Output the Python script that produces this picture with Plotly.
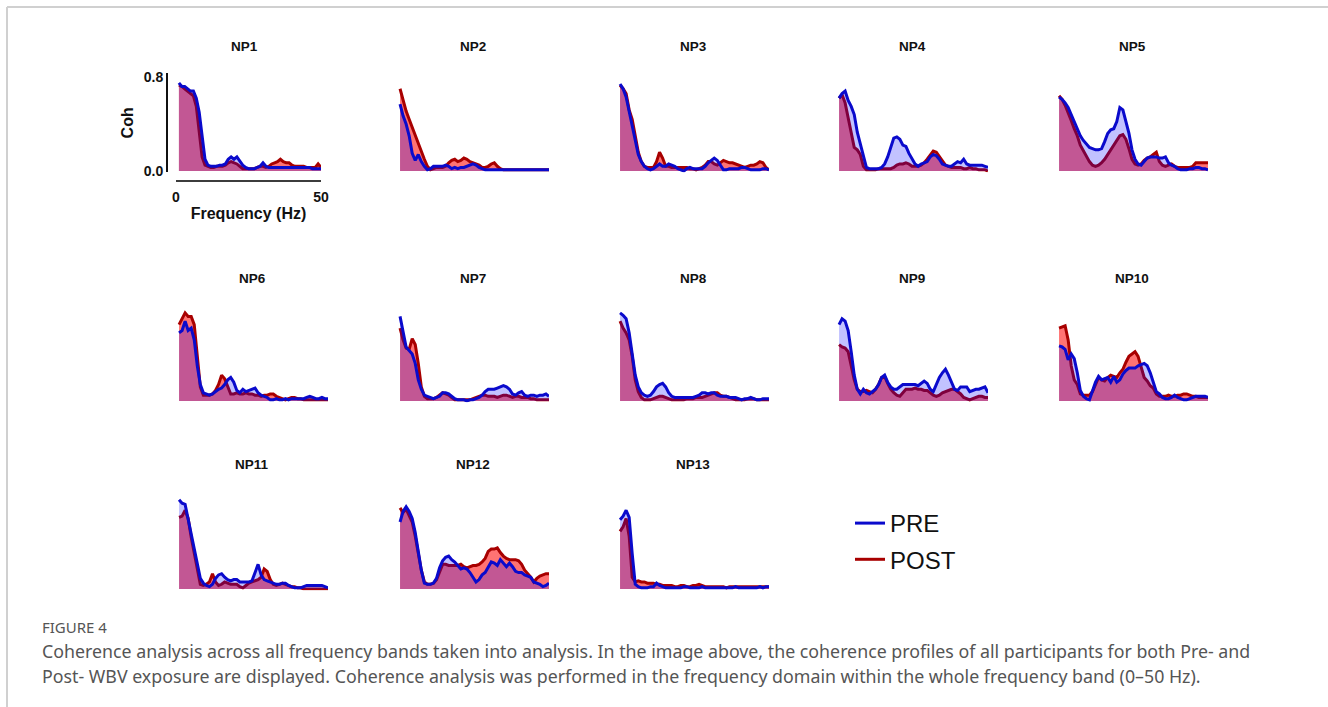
import plotly.graph_objects as go

W, H = 1328, 707

# ---------------- data ----------------
freqs = list(range(1, 51))  # Hz
panel_names = ["NP1", "NP2", "NP3", "NP4", "NP5", "NP6", "NP7", "NP8", "NP9", "NP10", "NP11", "NP12", "NP13"]

np1_pre = [0.75, 0.72, 0.72, 0.70, 0.68, 0.68, 0.62, 0.50, 0.28, 0.10,
           0.05, 0.04, 0.04, 0.04, 0.05, 0.05, 0.06, 0.10, 0.12, 0.10,
           0.12, 0.08, 0.05, 0.03, 0.02, 0.02, 0.02, 0.03, 0.04, 0.07,
           0.04, 0.03, 0.03, 0.03, 0.03, 0.03, 0.03, 0.03, 0.03, 0.03,
           0.03, 0.03, 0.03, 0.03, 0.03, 0.03, 0.02, 0.02, 0.02, 0.02]
np1_post = [0.73, 0.72, 0.70, 0.68, 0.66, 0.64, 0.55, 0.35, 0.12, 0.05,
            0.04, 0.03, 0.03, 0.04, 0.04, 0.04, 0.05, 0.07, 0.08, 0.07,
            0.06, 0.04, 0.02, 0.02, 0.02, 0.02, 0.02, 0.03, 0.04, 0.04,
            0.03, 0.04, 0.06, 0.07, 0.08, 0.10, 0.08, 0.07, 0.07, 0.05,
            0.04, 0.04, 0.04, 0.04, 0.03, 0.03, 0.03, 0.03, 0.06, 0.03]

np2_pre = [0.57, 0.47, 0.40, 0.30, 0.15, 0.09, 0.14, 0.08, 0.04, 0.01,
           0.02, 0.04, 0.04, 0.04, 0.04, 0.05, 0.04, 0.02, 0.03, 0.02,
           0.03, 0.03, 0.04, 0.05, 0.06, 0.05, 0.03, 0.02, 0.01, 0.01,
           0.01, 0.01, 0.01, 0.01, 0.01, 0.01, 0.01, 0.01, 0.01, 0.01,
           0.01, 0.01, 0.01, 0.01, 0.01, 0.01, 0.01, 0.01, 0.01, 0.01]
np2_post = [0.70, 0.60, 0.51, 0.44, 0.37, 0.30, 0.24, 0.17, 0.10, 0.04,
            0.01, 0.02, 0.03, 0.03, 0.03, 0.04, 0.07, 0.09, 0.10, 0.08,
            0.09, 0.11, 0.10, 0.08, 0.07, 0.06, 0.05, 0.03, 0.03, 0.04,
            0.06, 0.07, 0.04, 0.02, 0.01, 0.01, 0.01, 0.01, 0.01, 0.01,
            0.01, 0.01, 0.01, 0.01, 0.01, 0.01, 0.01, 0.01, 0.01, 0.01]

np3_pre = [0.74, 0.70, 0.63, 0.50, 0.38, 0.26, 0.14, 0.08, 0.04, 0.02,
           0.01, 0.02, 0.04, 0.06, 0.04, 0.04, 0.06, 0.05, 0.04, 0.02,
           0.01, 0.00, 0.02, 0.03, 0.02, 0.02, 0.02, 0.02, 0.04, 0.07,
           0.09, 0.11, 0.09, 0.05, 0.01, 0.01, 0.02, 0.02, 0.02, 0.02,
           0.03, 0.03, 0.02, 0.01, 0.01, 0.01, 0.01, 0.02, 0.02, 0.01]
np3_post = [0.73, 0.70, 0.66, 0.52, 0.44, 0.30, 0.16, 0.08, 0.04, 0.03,
            0.03, 0.03, 0.08, 0.16, 0.11, 0.04, 0.04, 0.03, 0.03, 0.03,
            0.03, 0.03, 0.03, 0.02, 0.02, 0.01, 0.02, 0.03, 0.05, 0.08,
            0.08, 0.06, 0.05, 0.07, 0.09, 0.08, 0.07, 0.07, 0.06, 0.05,
            0.04, 0.03, 0.04, 0.05, 0.05, 0.06, 0.08, 0.07, 0.03, 0.01]

np4_pre = [0.62, 0.66, 0.68, 0.60, 0.55, 0.48, 0.33, 0.23, 0.12, 0.03,
           0.02, 0.02, 0.02, 0.02, 0.03, 0.06, 0.12, 0.20, 0.28, 0.29,
           0.27, 0.22, 0.21, 0.15, 0.10, 0.06, 0.04, 0.06, 0.07, 0.08,
           0.12, 0.14, 0.13, 0.10, 0.06, 0.05, 0.04, 0.04, 0.06, 0.08,
           0.07, 0.10, 0.06, 0.05, 0.05, 0.05, 0.05, 0.05, 0.04, 0.03]
np4_post = [0.62, 0.65, 0.58, 0.45, 0.30, 0.20, 0.18, 0.14, 0.04, 0.01,
            0.01, 0.01, 0.01, 0.02, 0.02, 0.02, 0.02, 0.02, 0.03, 0.05,
            0.06, 0.06, 0.07, 0.06, 0.04, 0.04, 0.04, 0.05, 0.07, 0.10,
            0.14, 0.17, 0.16, 0.12, 0.08, 0.05, 0.04, 0.03, 0.03, 0.03,
            0.03, 0.02, 0.02, 0.03, 0.02, 0.02, 0.01, 0.01, 0.01, 0.00]

np5_pre = [0.63, 0.61, 0.58, 0.54, 0.48, 0.42, 0.36, 0.30, 0.26, 0.23,
           0.20, 0.19, 0.18, 0.18, 0.19, 0.25, 0.32, 0.35, 0.36, 0.42,
           0.54, 0.52, 0.42, 0.32, 0.18, 0.10, 0.06, 0.05, 0.08, 0.11,
           0.12, 0.12, 0.12, 0.11, 0.11, 0.12, 0.07, 0.05, 0.04, 0.02,
           0.01, 0.01, 0.01, 0.02, 0.02, 0.03, 0.03, 0.02, 0.02, 0.01]
np5_post = [0.64, 0.61, 0.56, 0.50, 0.43, 0.36, 0.30, 0.22, 0.17, 0.12,
            0.08, 0.05, 0.04, 0.05, 0.07, 0.10, 0.14, 0.19, 0.23, 0.26,
            0.30, 0.31, 0.27, 0.19, 0.10, 0.06, 0.05, 0.06, 0.09, 0.11,
            0.12, 0.14, 0.16, 0.08, 0.05, 0.04, 0.05, 0.06, 0.04, 0.03,
            0.03, 0.03, 0.03, 0.03, 0.04, 0.07, 0.07, 0.07, 0.07, 0.07]

np6_pre = [0.58, 0.60, 0.68, 0.60, 0.62, 0.52, 0.30, 0.14, 0.07, 0.06,
           0.05, 0.06, 0.08, 0.10, 0.11, 0.14, 0.18, 0.20, 0.16, 0.09,
           0.07, 0.10, 0.08, 0.09, 0.10, 0.11, 0.07, 0.05, 0.04, 0.03,
           0.01, 0.01, 0.02, 0.01, 0.01, 0.02, 0.01, 0.02, 0.02, 0.02,
           0.02, 0.02, 0.03, 0.04, 0.03, 0.02, 0.02, 0.03, 0.02, 0.02]
np6_post = [0.65, 0.70, 0.75, 0.72, 0.72, 0.65, 0.40, 0.12, 0.05, 0.05,
            0.05, 0.06, 0.09, 0.14, 0.22, 0.19, 0.12, 0.06, 0.06, 0.07,
            0.06, 0.06, 0.07, 0.06, 0.06, 0.05, 0.05, 0.04, 0.05, 0.05,
            0.06, 0.06, 0.04, 0.03, 0.02, 0.01, 0.02, 0.03, 0.03, 0.02,
            0.02, 0.01, 0.01, 0.01, 0.01, 0.01, 0.01, 0.01, 0.01, 0.01]

np7_pre = [0.72, 0.60, 0.46, 0.43, 0.40, 0.32, 0.18, 0.10, 0.05, 0.04,
           0.03, 0.02, 0.03, 0.04, 0.07, 0.07, 0.06, 0.04, 0.02, 0.01,
           0.01, 0.01, 0.00, 0.01, 0.01, 0.02, 0.03, 0.05, 0.08, 0.10,
           0.10, 0.10, 0.11, 0.12, 0.13, 0.12, 0.10, 0.06, 0.05, 0.07,
           0.08, 0.05, 0.04, 0.05, 0.05, 0.04, 0.05, 0.05, 0.06, 0.04]
np7_post = [0.62, 0.52, 0.45, 0.44, 0.53, 0.48, 0.32, 0.12, 0.04, 0.02,
            0.02, 0.02, 0.03, 0.05, 0.07, 0.06, 0.05, 0.03, 0.01, 0.01,
            0.01, 0.01, 0.01, 0.01, 0.02, 0.03, 0.04, 0.05, 0.05, 0.04,
            0.04, 0.04, 0.03, 0.04, 0.05, 0.05, 0.04, 0.03, 0.04, 0.04,
            0.03, 0.03, 0.03, 0.02, 0.02, 0.01, 0.01, 0.01, 0.01, 0.01]

np8_pre = [0.75, 0.73, 0.70, 0.58, 0.40, 0.22, 0.12, 0.07, 0.05, 0.04,
           0.05, 0.08, 0.12, 0.14, 0.15, 0.12, 0.07, 0.04, 0.03, 0.03,
           0.03, 0.03, 0.03, 0.03, 0.03, 0.04, 0.05, 0.07, 0.07, 0.06,
           0.07, 0.07, 0.05, 0.04, 0.04, 0.04, 0.03, 0.03, 0.03, 0.02,
           0.01, 0.02, 0.02, 0.03, 0.02, 0.01, 0.01, 0.02, 0.02, 0.02]
np8_post = [0.68, 0.62, 0.58, 0.52, 0.38, 0.18, 0.08, 0.03, 0.01, 0.01,
            0.01, 0.02, 0.03, 0.04, 0.04, 0.03, 0.02, 0.01, 0.01, 0.01,
            0.01, 0.01, 0.02, 0.02, 0.02, 0.03, 0.03, 0.03, 0.04, 0.05,
            0.06, 0.07, 0.07, 0.05, 0.04, 0.04, 0.03, 0.02, 0.01, 0.01,
            0.01, 0.01, 0.02, 0.02, 0.02, 0.01, 0.01, 0.01, 0.01, 0.01]

np9_pre = [0.65, 0.70, 0.68, 0.60, 0.42, 0.22, 0.10, 0.06, 0.10, 0.07,
           0.06, 0.08, 0.10, 0.14, 0.20, 0.22, 0.16, 0.12, 0.10, 0.10,
           0.12, 0.14, 0.14, 0.14, 0.14, 0.14, 0.13, 0.15, 0.17, 0.15,
           0.10, 0.08, 0.14, 0.20, 0.24, 0.27, 0.22, 0.16, 0.10, 0.09,
           0.12, 0.12, 0.12, 0.08, 0.09, 0.10, 0.10, 0.11, 0.12, 0.07]
np9_post = [0.48, 0.46, 0.45, 0.42, 0.30, 0.18, 0.10, 0.08, 0.08, 0.09,
            0.08, 0.07, 0.10, 0.14, 0.20, 0.21, 0.15, 0.10, 0.07, 0.05,
            0.04, 0.07, 0.10, 0.10, 0.10, 0.11, 0.10, 0.10, 0.09, 0.09,
            0.07, 0.05, 0.04, 0.05, 0.07, 0.08, 0.09, 0.10, 0.10, 0.08,
            0.06, 0.03, 0.02, 0.01, 0.02, 0.03, 0.04, 0.04, 0.03, 0.03]

np10_pre = [0.47, 0.46, 0.44, 0.35, 0.40, 0.36, 0.24, 0.09, 0.04, 0.02,
            0.01, 0.08, 0.16, 0.21, 0.18, 0.19, 0.20, 0.16, 0.21, 0.16,
            0.18, 0.23, 0.26, 0.28, 0.28, 0.28, 0.30, 0.31, 0.32, 0.30,
            0.24, 0.16, 0.08, 0.06, 0.03, 0.02, 0.02, 0.03, 0.05, 0.03,
            0.02, 0.01, 0.01, 0.02, 0.03, 0.04, 0.04, 0.04, 0.04, 0.03]
np10_post = [0.62, 0.63, 0.64, 0.52, 0.30, 0.18, 0.14, 0.06, 0.05, 0.05,
             0.05, 0.08, 0.14, 0.20, 0.18, 0.17, 0.20, 0.22, 0.21, 0.20,
             0.24, 0.27, 0.33, 0.38, 0.40, 0.42, 0.38, 0.28, 0.20, 0.17,
             0.13, 0.11, 0.06, 0.04, 0.04, 0.04, 0.05, 0.04, 0.04, 0.05,
             0.05, 0.06, 0.06, 0.05, 0.04, 0.04, 0.03, 0.03, 0.03, 0.03]

np11_pre = [0.76, 0.73, 0.72, 0.60, 0.47, 0.34, 0.21, 0.09, 0.05, 0.03,
            0.02, 0.04, 0.09, 0.12, 0.13, 0.10, 0.08, 0.07, 0.08, 0.08,
            0.06, 0.06, 0.06, 0.06, 0.07, 0.15, 0.21, 0.12, 0.08, 0.07,
            0.06, 0.05, 0.04, 0.04, 0.05, 0.05, 0.03, 0.02, 0.01, 0.01,
            0.01, 0.02, 0.03, 0.03, 0.03, 0.03, 0.03, 0.03, 0.02, 0.01]
np11_post = [0.61, 0.62, 0.67, 0.60, 0.44, 0.30, 0.18, 0.04, 0.03, 0.04,
             0.06, 0.13, 0.06, 0.03, 0.04, 0.06, 0.05, 0.04, 0.04, 0.04,
             0.02, 0.01, 0.03, 0.05, 0.06, 0.07, 0.08, 0.10, 0.17, 0.15,
             0.08, 0.04, 0.03, 0.04, 0.05, 0.04, 0.03, 0.02, 0.02, 0.01,
             0.01, 0.00, 0.00, 0.00, 0.00, 0.00, 0.00, 0.00, 0.00, 0.00]

np12_pre = [0.57, 0.66, 0.70, 0.66, 0.60, 0.48, 0.32, 0.16, 0.05, 0.04,
            0.04, 0.05, 0.09, 0.18, 0.24, 0.27, 0.28, 0.25, 0.23, 0.20,
            0.17, 0.18, 0.17, 0.14, 0.10, 0.06, 0.08, 0.12, 0.14, 0.19,
            0.23, 0.22, 0.20, 0.25, 0.22, 0.19, 0.22, 0.19, 0.15, 0.14,
            0.14, 0.12, 0.11, 0.10, 0.06, 0.05, 0.04, 0.02, 0.03, 0.05]
np12_post = [0.69, 0.65, 0.68, 0.63, 0.57, 0.45, 0.30, 0.16, 0.06, 0.04,
             0.04, 0.05, 0.08, 0.14, 0.21, 0.21, 0.20, 0.20, 0.20, 0.20,
             0.21, 0.19, 0.18, 0.19, 0.20, 0.20, 0.21, 0.23, 0.26, 0.32,
             0.34, 0.34, 0.35, 0.31, 0.28, 0.26, 0.25, 0.25, 0.25, 0.24,
             0.21, 0.16, 0.13, 0.10, 0.06, 0.09, 0.11, 0.12, 0.13, 0.13]

np13_pre = [0.59, 0.62, 0.67, 0.61, 0.30, 0.04, 0.02, 0.01, 0.01, 0.01,
            0.02, 0.02, 0.05, 0.03, 0.02, 0.01, 0.01, 0.01, 0.01, 0.01,
            0.01, 0.02, 0.02, 0.01, 0.01, 0.01, 0.01, 0.02, 0.01, 0.01,
            0.01, 0.01, 0.01, 0.01, 0.01, 0.01, 0.01, 0.01, 0.02, 0.01,
            0.01, 0.01, 0.01, 0.01, 0.01, 0.01, 0.02, 0.01, 0.02, 0.02]
np13_post = [0.49, 0.53, 0.60, 0.45, 0.10, 0.06, 0.07, 0.06, 0.06, 0.05,
             0.05, 0.05, 0.04, 0.04, 0.03, 0.03, 0.03, 0.03, 0.02, 0.02,
             0.03, 0.03, 0.02, 0.02, 0.03, 0.03, 0.04, 0.03, 0.02, 0.02,
             0.02, 0.02, 0.02, 0.02, 0.02, 0.01, 0.02, 0.02, 0.02, 0.02,
             0.02, 0.02, 0.02, 0.02, 0.02, 0.02, 0.02, 0.02, 0.02, 0.02]

pre_series = [np1_pre, np2_pre, np3_pre, np4_pre, np5_pre, np6_pre, np7_pre,
              np8_pre, np9_pre, np10_pre, np11_pre, np12_pre, np13_pre]
post_series = [np1_post, np2_post, np3_post, np4_post, np5_post, np6_post, np7_post,
               np8_post, np9_post, np10_post, np11_post, np12_post, np13_post]

caption_title = "FIGURE 4"
caption_lines = [
    "Coherence analysis across all frequency bands taken into analysis. In the image above, the coherence profiles of all participants for both Pre- and",
    "Post- WBV exposure are displayed. Coherence analysis was performed in the frequency domain within the whole frequency band (0\u201350 Hz).",
]

# ---------------- styling / layout ----------------
PRE_LINE = "#0a0acc"
POST_LINE = "#a80000"
PRE_FILL = "rgba(0,0,255,0.24)"
POST_FILL = "rgba(255,0,0,0.55)"
LW = 3

col_left = [176, 397, 617, 836, 1056]   # pixel of 0 Hz for each column
row_base = [171, 401, 589]              # pixel of Coh = 0 for each row
title_py = [46, 278, 465]
PX_PER_UNIT = 117.5
Y_RANGE = [-0.01, 0.83]
X_RANGE = [0, 50]
BOLD = "Liberation Sans, Arial"


def fx(p):
    return p / W


def fy(p):
    return 1 - p / H


fig = go.Figure()
axes_layout = {}
annotations = []

for k, name in enumerate(panel_names):
    r, c = divmod(k, 5)
    x0 = col_left[c]
    width = 145 if k == 0 else 152
    base = row_base[r]
    top = base - Y_RANGE[1] * PX_PER_UNIT
    bottom = base - Y_RANGE[0] * PX_PER_UNIT
    sfx = "" if k == 0 else str(k + 1)
    xref, yref = "x" + sfx, "y" + sfx

    xd = [fx(x0), fx(x0 + width)]
    yd = [fy(bottom), fy(top)]

    if k == 0:
        axes_layout["xaxis"] = dict(
            domain=xd, range=X_RANGE, anchor="free", position=fy(181),
            showline=True, linecolor="#3c3c3c", linewidth=2,
            ticks="outside", ticklen=3, tickcolor="rgba(0,0,0,0)",
            tickvals=[0, 50], showgrid=False, zeroline=False, automargin=False,
            tickfont=dict(family=BOLD, size=14, color="#111", weight="bold"),
            title=dict(text="Frequency (Hz)", standoff=3,
                       font=dict(family=BOLD, size=16, color="#111", weight="bold")),
            fixedrange=True,
        )
        axes_layout["yaxis"] = dict(
            domain=yd, range=Y_RANGE, anchor="free", position=fx(167),
            showline=True, linecolor="#111", linewidth=2, ticks="",
            tickvals=[0, 0.8], tickformat=".1f", showgrid=False, zeroline=False,
            automargin=False,
            tickfont=dict(family=BOLD, size=14, color="#111", weight="bold"),
            title=dict(text="Coh", standoff=5,
                       font=dict(family=BOLD, size=16, color="#111", weight="bold")),
            fixedrange=True,
        )
    else:
        axes_layout["xaxis" + sfx] = dict(domain=xd, range=X_RANGE, visible=False,
                                          anchor=yref, fixedrange=True)
        axes_layout["yaxis" + sfx] = dict(domain=yd, range=Y_RANGE, visible=False,
                                          anchor=xref, fixedrange=True)

    show = (k == 0)
    # draw order: POST fill, POST line, PRE fill, PRE line
    fig.add_trace(go.Scatter(x=freqs, y=post_series[k], mode="lines", fill="tozeroy",
                             fillcolor=POST_FILL, line=dict(width=0, color=POST_LINE),
                             showlegend=False, hoverinfo="skip", xaxis=xref, yaxis=yref))
    fig.add_trace(go.Scatter(x=freqs, y=post_series[k], mode="lines", name="POST",
                             line=dict(width=LW, color=POST_LINE), legendgroup="post",
                             legendrank=2, showlegend=show, xaxis=xref, yaxis=yref))
    fig.add_trace(go.Scatter(x=freqs, y=pre_series[k], mode="lines", fill="tozeroy",
                             fillcolor=PRE_FILL, line=dict(width=0, color=PRE_LINE),
                             showlegend=False, hoverinfo="skip", xaxis=xref, yaxis=yref))
    fig.add_trace(go.Scatter(x=freqs, y=pre_series[k], mode="lines", name="PRE",
                             line=dict(width=LW, color=PRE_LINE), legendgroup="pre",
                             legendrank=1, showlegend=show, xaxis=xref, yaxis=yref))

    annotations.append(dict(
        text=name, xref="paper", yref="paper",
        x=fx(x0 + width / 2 + (-4 if k == 0 else 0)), y=fy(title_py[r]),
        xanchor="center", yanchor="middle", showarrow=False,
        font=dict(family=BOLD, size=13.5, color="#111", weight="bold"),
    ))

# caption
annotations.append(dict(
    text=caption_title, xref="paper", yref="paper", x=fx(40), y=fy(627),
    xanchor="left", yanchor="middle", showarrow=False,
    font=dict(family="Noto Sans", size=15, color="#555555"),
))
for i, line in enumerate(caption_lines):
    annotations.append(dict(
        text=line, xref="paper", yref="paper", x=fx(40), y=fy(651 + 25 * i),
        xanchor="left", yanchor="middle", showarrow=False,
        font=dict(family="Noto Sans", size=17.8, color="#555555"),
    ))

shapes = [
    dict(type="line", xref="paper", yref="paper", x0=fx(7), x1=1, y0=fy(7), y1=fy(7),
         line=dict(color="#d0d0d0", width=2)),
    dict(type="line", xref="paper", yref="paper", x0=fx(7), x1=fx(7), y0=fy(7), y1=0,
         line=dict(color="#d0d0d0", width=2)),
]

fig.update_layout(
    width=W, height=H,
    margin=dict(l=0, r=0, t=0, b=0),
    paper_bgcolor="white", plot_bgcolor="rgba(0,0,0,0)",
    annotations=annotations, shapes=shapes,
    showlegend=True,
    legend=dict(
        x=fx(850), y=fy(501), xanchor="left", yanchor="top",
        bgcolor="rgba(0,0,0,0)", borderwidth=0,
        traceorder="grouped", tracegroupgap=2,
        font=dict(family=BOLD, size=24, color="#111"),
        itemwidth=30,
    ),
    **axes_layout,
)

fig.write_html(
    "out.html",
    config={"displayModeBar": False},
    post_script="document.body.style.margin='0';document.body.style.overflow='hidden';",
)
